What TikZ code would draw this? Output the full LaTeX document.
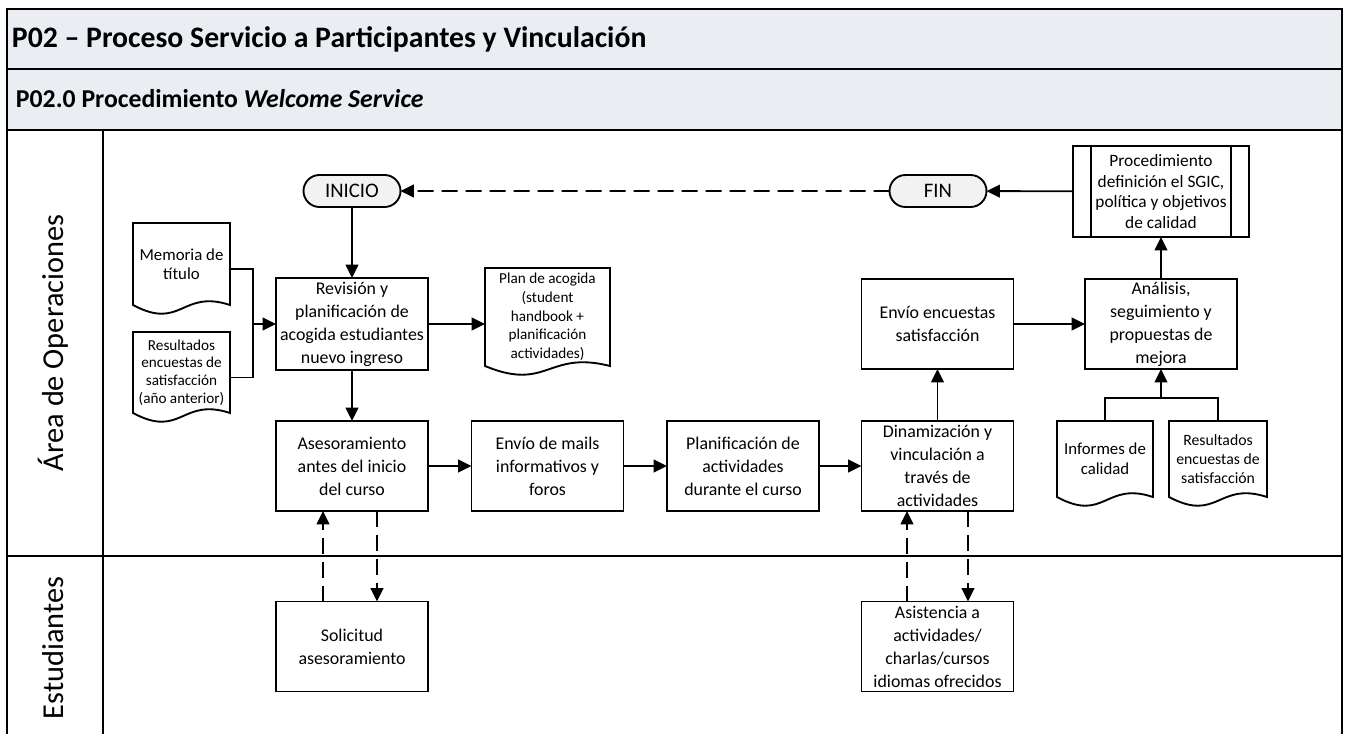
\documentclass[tikz,border=0pt]{standalone}
\usepackage{fontspec}
\setmainfont{Carlito}
\usetikzlibrary{arrows.meta,calc,shapes.misc}

\definecolor{headfill}{RGB}{234,237,242}
\definecolor{termfill}{RGB}{242,242,242}

\newcommand\fsz[2]{\fontsize{#1}{#2}\selectfont}

\begin{document}
\begin{tikzpicture}[x=0.75pt,y=-0.75pt,
  every node/.style={inner sep=0pt, outer sep=0pt},
  box/.style={draw, line width=1.4pt, rectangle, align=center,
    minimum width=114pt, minimum height=67.5pt, font=\fsz{13.4}{17.25}},
  procbox/.style={box, minimum width=132pt, minimum height=68.25pt, font=\fsz{13}{15.4}},
  doc/.style={rectangle, align=center},
  terminal/.style={draw, line width=1.4pt, fill=termfill, rounded rectangle,
    minimum width=72.75pt, minimum height=24pt, font=\fsz{15.5}{18}},
  lane/.style={rotate=90, font=\fsz{22.75}{26}},
  wire/.style={line width=1.4pt},
  flow/.style={wire, -{Triangle[length=10pt,width=9.5pt]}},
  dflow/.style={flow, dash pattern=on 12pt off 6pt},
  frame/.style={line width=2pt},
  rule/.style={line width=1.5pt}]

\useasboundingbox (0,0) rectangle (1346,734);

% header band and pool frame
\fill[headfill] (7,9) rectangle (1342,130);
\draw[rule] (7,69) -- (1342,69);
\draw[rule] (7,130) -- (1342,130);
\draw[rule] (103,130) -- (103,734);
\draw[rule] (7,556) -- (1342,556);
\draw[frame] (7,734) -- (7,9) -- (1342,9) -- (1342,734);

\node[anchor=west, font=\bfseries\fsz{22.3}{26}] (title) at (12,39)
  {P02 – Proceso Servicio a Participantes y Vinculación};
\node[anchor=west, font=\bfseries\fsz{19.3}{22}] (subtitle) at (16,99)
  {P02.0 Procedimiento \textit{Welcome Service}};

% lane labels
\node[lane] (laneops) at (53,343) {Área de Operaciones};
\node[lane] (lanestu) at (53,648) {Estudiantes};

% terminals
\node[terminal] (inicio) at (352,191) {INICIO};
\node[terminal] (fin) at (938,191) {FIN};

% process steps
\node[box, minimum height=69pt] (rev) at (352,324)
  {Revisión y\\planificación de\\acogida estudiantes\\nuevo ingreso};
\node[box] (ases) at (352,466) {Asesoramiento\\antes del inicio\\del curso};
\node[box] (mails) at (547.5,466) {Envío de mails\\informativos y\\foros};
\node[box] (plani) at (743,466) {Planificación de\\actividades\\durante el curso};
\node[box] (dina) at (937.5,466) {Dinamización y\\vinculación a\\través de\\actividades};
\node[box] (envenc) at (937.5,324) {Envío encuestas\\satisfacción};
\node[box] (anal) at (1161,324) {Análisis,\\seguimiento y\\propuestas de\\mejora};
\node[procbox] (proc) at (1161,191.5)
  {Procedimiento\\definición el SGIC,\\política y objetivos\\de calidad};
\node[box] (soli) at (352,646.5) {Solicitud\\asesoramiento};
\node[box] (asis) at (937.5,646.5)
  {Asistencia a\\actividades/\\charlas/cursos\\idiomas ofrecidos};

% predefined-process side bars
\draw[wire] ($(proc.north west)+(18,0)$) -- ($(proc.south west)+(18,0)$);
\draw[wire] ($(proc.north east)+(-18,0)$) -- ($(proc.south east)+(-18,0)$);

% documents
\node[doc, minimum width=72.75pt, minimum height=61.5pt, font=\fsz{12.6}{14.3}]
  (memo) at (181.5,264) {Memoria de\\título};
\node[doc, minimum width=72.75pt, minimum height=60.75pt, font=\fsz{11.4}{13.3}]
  (resant) at (181.5,372.5) {Resultados\\encuestas de\\satisfacción\\(año anterior)};
\node[doc, minimum width=93.75pt, minimum height=73.5pt, font=\fsz{11.4}{14}]
  (plan) at (547.5,317) {Plan de acogida\\(student\\handbook +\\planificación\\actividades)};
\node[doc, minimum width=72pt, minimum height=57pt, font=\fsz{12.6}{15}]
  (inf) at (1105,459) {Informes de\\calidad};
\node[doc, minimum width=73.5pt, minimum height=57pt, font=\fsz{11.8}{14}]
  (resenc) at (1218,459) {Resultados\\encuestas de\\satisfacción};

\foreach \n in {memo,resant,plan,inf,resenc}{
  \draw[wire, line join=miter] (\n.south east)
    .. controls ($(\n.south)+(0,-16)$) and ($(\n.south)+(0,26)$) .. (\n.south west)
    -- (\n.north west) -- (\n.north east) -- cycle;
}

% main flow
\draw[flow] (inicio) -- (rev);
\draw[flow] (rev) -- (ases);
\draw[flow] (ases) -- (mails);
\draw[flow] (mails) -- (plani);
\draw[flow] (plani) -- (dina);
\draw[flow] (dina) -- (envenc);
\draw[flow] (envenc) -- (anal);
\draw[flow] (anal) -- (proc);
\draw[flow] (proc) -- (fin);
\draw[dflow] (fin) -- (inicio);
\draw[flow] (rev.east) -- (rev.east -| plan.west);

% inputs to the review step
\coordinate (jl) at ($(rev.west)+(-23,0)$);
\draw[wire] ($(memo.east)+(0,5)$) -| (jl) |- ($(resant.east)+(0,5)$);
\draw[flow] (jl) -- (rev.west);

% inputs to the analysis step
\coordinate (jr) at ($(anal.south)+(0,29)$);
\draw[wire] (inf.north) |- (jr) -| (resenc.north);
\draw[flow] (jr) -- (anal.south);

% exchanges with students
\draw[dflow] ($(soli.north)+(-29,0)$) -- ($(ases.south)+(-29,0)$);
\draw[dflow] ($(ases.south)+(25,0)$) -- ($(soli.north)+(25,0)$);
\draw[dflow] ($(asis.north)+(-30.5,0)$) -- ($(dina.south)+(-30.5,0)$);
\draw[dflow] ($(dina.south)+(30.5,0)$) -- ($(asis.north)+(30.5,0)$);

\end{tikzpicture}
\end{document}
